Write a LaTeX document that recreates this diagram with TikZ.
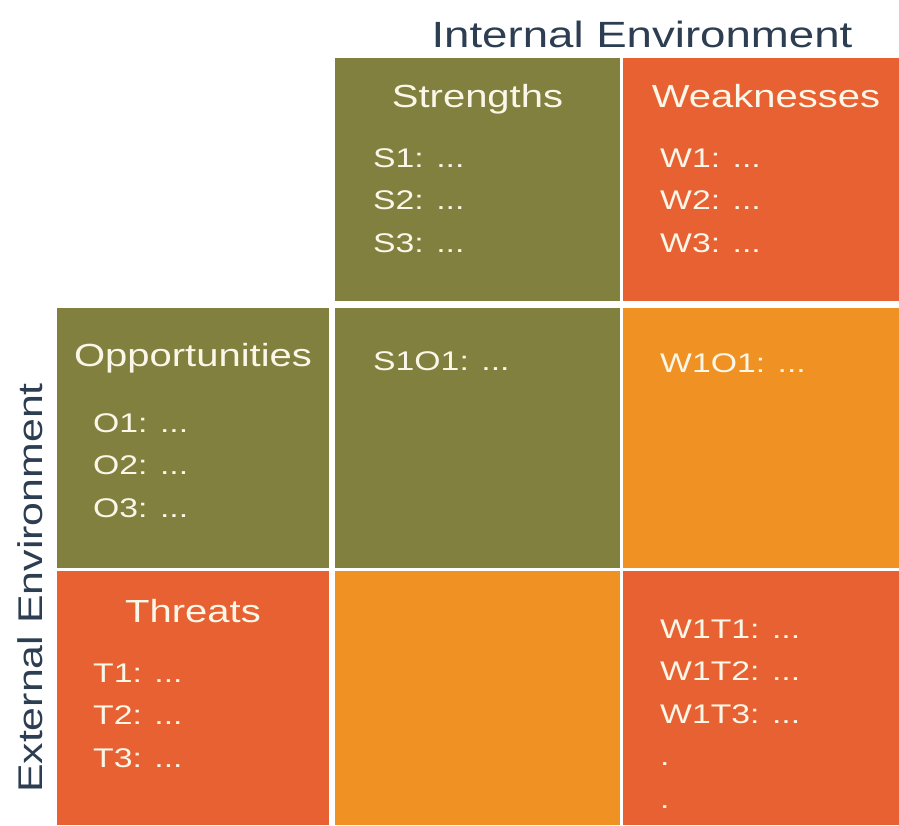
\documentclass[tikz,border=0pt]{standalone}
\usepackage{fontspec}
\setmainfont{Liberation Sans}[FakeStretch=1.25]
\usetikzlibrary{positioning}
\definecolor{swotolive}{RGB}{129,128,63}
\definecolor{swotred}{RGB}{232,97,50}
\definecolor{swotorange}{RGB}{240,145,35}
\definecolor{heading}{RGB}{45,62,82}
\definecolor{cream}{RGB}{250,246,232}

\begin{document}
\begin{tikzpicture}[x=1pt, y=-1pt,
		cell/.style={inner sep=0pt, outer sep=0pt},
		title/.style={anchor=base, inner sep=0pt, cream, font=\fontsize{32}{38}\selectfont},
		% lists are anchored on the baseline of their last line
		items/.style={anchor=base west, inner sep=0pt, align=left, cream,
			font=\fontsize{27}{42.5}\selectfont},
		env/.style={anchor=base, inner sep=0pt, heading}]
		\useasboundingbox (0,0) rectangle (899,825);
		% the grid of cells
		\node[cell, anchor=north west, fill=swotolive, minimum width=285pt, minimum height=243pt] (str) at (335,58) {};
		\node[cell, fill=swotred, minimum width=276pt, minimum height=243pt, right=3pt of str] (weak) {};
		\node[cell, fill=swotolive, minimum width=285pt, minimum height=260pt, below=7pt of str] (so) {};
		\node[cell, fill=swotorange, minimum width=276pt, minimum height=260pt, below=7pt of weak] (wo) {};
		\node[cell, fill=swotolive, minimum width=272pt, minimum height=260pt, left=6pt of so] (opp) {};
		\node[cell, fill=swotorange, minimum width=285pt, minimum height=254pt, below=3pt of so] (st) {};
		\node[cell, fill=swotred, minimum width=276pt, minimum height=254pt, below=3pt of wo] (wt) {};
		\node[cell, fill=swotred, minimum width=272pt, minimum height=254pt, below=3pt of opp] (thr) {};
		% axis headings
		\node[env, font=\fontsize{36.5}{40}\selectfont] (internal) at (642,47) {Internal Environment};
		\node[env, rotate=90, font=\fontsize{34.3}{40}\selectfont] (external) at (42,588) {External Environment};
		% cell titles
		\node[title] (strtitle) at ([yshift=-49pt]str.north) {Strengths};
		\node[title] (weaktitle) at ([xshift=5pt, yshift=-49pt]weak.north) {Weaknesses};
		\node[title] (opptitle) at ([yshift=-58pt]opp.north) {Opportunities};
		\node[title] (thrtitle) at ([yshift=-51pt]thr.north) {Threats};
		% cell entries
		\node[items] (strlist) at ([xshift=38pt, yshift=-194pt]str.north west) {S1: ...\\S2: ...\\S3: ...};
		\node[items] (weaklist) at ([xshift=37pt, yshift=-194pt]weak.north west) {W1: ...\\W2: ...\\W3: ...};
		\node[items] (opplist) at ([xshift=36pt, yshift=-209pt]opp.north west) {O1: ...\\O2: ...\\O3: ...};
		\node[items] (thrlist) at ([xshift=36pt, yshift=-196pt]thr.north west) {T1: ...\\T2: ...\\T3: ...};
		\node[items] (solist) at ([xshift=38pt, yshift=-62pt]so.north west) {S1O1: ...};
		\node[items] (wolist) at ([xshift=37pt, yshift=-64pt]wo.north west) {W1O1: ...};
		\node[items] (wtlist) at ([xshift=37pt, yshift=-237pt]wt.north west) {W1T1: ...\\W1T2: ...\\W1T3: ...\\.\\.};
	\end{tikzpicture}
\end{document}
